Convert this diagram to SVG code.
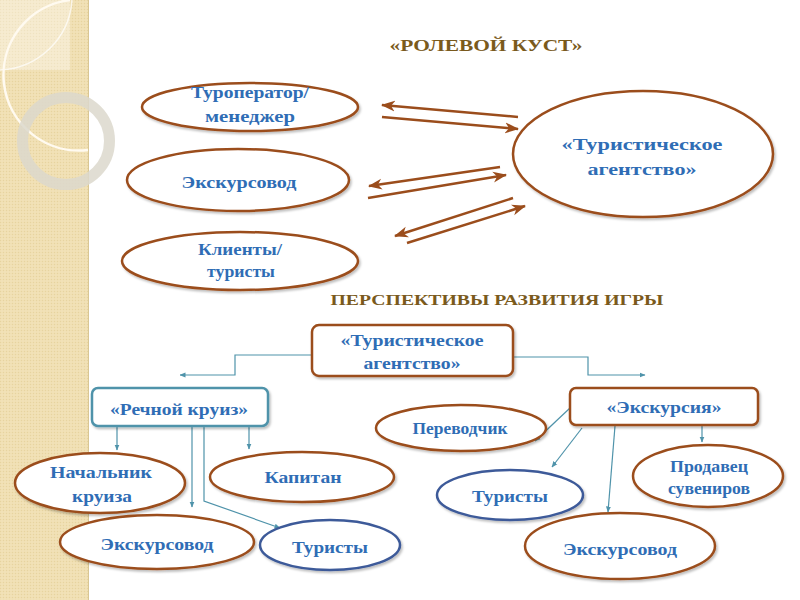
<svg xmlns="http://www.w3.org/2000/svg" width="800" height="600" viewBox="0 0 800 600">
<defs>
<pattern id="tex" width="3" height="3" patternUnits="userSpaceOnUse">
<rect width="3" height="3" fill="#f0dfb2"/>
<rect width="1" height="1" fill="#e6d3a0"/>
<rect x="1.5" y="1.5" width="1" height="1" fill="#f6e9c6"/>
</pattern>
<marker id="ab" markerUnits="userSpaceOnUse" markerWidth="14" markerHeight="12" viewBox="0 0 14 12" refX="13" refY="6" orient="auto">
<path d="M0,0.5 L14,6 L0,11.5 L4,6 Z" fill="#9b4d1c"/>
</marker>
<marker id="at" markerUnits="userSpaceOnUse" markerWidth="6" markerHeight="6" viewBox="0 0 6 6" refX="5.5" refY="3" orient="auto">
<path d="M0,0.5 L6,3 L0,5.5 Z" fill="#4f93aa"/>
</marker>
<filter id="sh" x="-10%" y="-10%" width="130%" height="140%">
<feDropShadow dx="1.5" dy="2" stdDeviation="1.2" flood-color="#000" flood-opacity="0.25"/>
</filter>
</defs>
<style>
.el{fill:#fff;stroke:#9b4d1c;stroke-width:2.5;filter:url(#sh)}
.eb{fill:#fff;stroke:#3d5a99;stroke-width:2.5;filter:url(#sh)}
.rb{fill:#fff;stroke:#9b4d1c;stroke-width:2.5;filter:url(#sh)}
.rt{fill:#fff;stroke:#4f93aa;stroke-width:2.5;filter:url(#sh)}
.t{font-family:"Liberation Serif","Times New Roman",serif;font-weight:bold;font-size:17px;fill:#2f6db5;text-anchor:middle}
.h{font-family:"Liberation Serif","Times New Roman",serif;font-weight:bold;fill:#7a5a1c;text-anchor:middle}
.ba{fill:none;stroke:#9b4d1c;stroke-width:2.5;marker-end:url(#ab)}
.ta{fill:none;stroke:#4f93aa;stroke-width:1.2;marker-end:url(#at)}
</style>
<rect width="800" height="600" fill="#fff"/>
<g id="background">
<rect x="0" y="0" width="88" height="600" fill="url(#tex)"/>
<line x1="88.5" y1="0" x2="88.5" y2="600" stroke="#d9c693" stroke-width="1"/>
<rect x="0" y="0" width="70" height="70" fill="#fff" fill-opacity="0.35"/>
<path d="M72,0 A75,75 0 0 1 0,70" fill="none" stroke="#fff" stroke-opacity="0.7" stroke-width="1.5"/>
<path d="M88,150 A75,75 0 0 1 70,0" fill="none" stroke="#fffaf0" stroke-width="2.5"/>
<circle cx="66" cy="141" r="43.5" fill="none" stroke="#dcd8cc" stroke-opacity="0.85" stroke-width="11"/>
</g>
<text class="h" x="486" y="51" font-size="17" textLength="193" lengthAdjust="spacingAndGlyphs">«РОЛЕВОЙ КУСТ»</text>
<text class="h" x="497" y="305" font-size="15" textLength="333" lengthAdjust="spacingAndGlyphs">ПЕРСПЕКТИВЫ РАЗВИТИЯ ИГРЫ</text>
<g id="connectors">
<path class="ba" d="M518,117 L382,105"/>
<path class="ba" d="M382,117 L518,129"/>
<path class="ba" d="M500,167 L369,186"/>
<path class="ba" d="M368,198 L506,175"/>
<path class="ba" d="M513,198 L395,236"/>
<path class="ba" d="M407,243 L525,206"/>
<path class="ta" d="M312,355 H235 V375 H180"/>
<path class="ta" d="M513,357 H588 V375 H645"/>
<path class="ta" d="M117,426 V450"/>
<path class="ta" d="M192,426 V507"/>
<path class="ta" d="M204,426 V501 L280,528"/>
<path class="ta" d="M249,426 V449"/>
<path class="ta" d="M570,408 L535,441"/>
<path class="ta" d="M582,428 L552,467"/>
<path class="ta" d="M615,426 L608,512"/>
<path class="ta" d="M702,426 V442"/>
</g>
<g id="n-touroperator">
<ellipse class="el" cx="250" cy="107" rx="108" ry="24"/>
<text class="t" x="250" y="98" textLength="118" lengthAdjust="spacingAndGlyphs">Туроператор/</text>
<text class="t" x="250" y="122" textLength="90" lengthAdjust="spacingAndGlyphs">менеджер</text>
</g>
<g id="n-guide-top">
<ellipse class="el" cx="238" cy="180" rx="111" ry="31"/>
<text class="t" x="239" y="188" textLength="115" lengthAdjust="spacingAndGlyphs">Экскурсовод</text>
</g>
<g id="n-clients">
<ellipse class="el" cx="240" cy="261" rx="118" ry="29"/>
<text class="t" x="240" y="255" textLength="84" lengthAdjust="spacingAndGlyphs">Клиенты/</text>
<text class="t" x="241" y="277" textLength="68" lengthAdjust="spacingAndGlyphs">туристы</text>
</g>
<g id="n-agency-top">
<ellipse class="el" cx="643" cy="154" rx="130" ry="63"/>
<text class="t" x="642" y="150" textLength="161" lengthAdjust="spacingAndGlyphs">«Туристическое</text>
<text class="t" x="642" y="175" textLength="109" lengthAdjust="spacingAndGlyphs">агентство»</text>
</g>
<g id="n-agency">
<rect class="rb" x="312" y="325" width="201" height="51" rx="7"/>
<text class="t" x="412" y="346" textLength="143" lengthAdjust="spacingAndGlyphs">«Туристическое</text>
<text class="t" x="412" y="369" textLength="97" lengthAdjust="spacingAndGlyphs">агентство»</text>
</g>
<g id="n-cruise">
<rect class="rt" x="92" y="388" width="176" height="38" rx="6"/>
<text class="t" x="179" y="415" textLength="138" lengthAdjust="spacingAndGlyphs">«Речной круиз»</text>
</g>
<g id="n-excursion">
<rect class="rb" x="570" y="388" width="188" height="37" rx="6"/>
<text class="t" x="664" y="413" textLength="115" lengthAdjust="spacingAndGlyphs">«Экскурсия»</text>
</g>
<g id="n-translator">
<ellipse class="el" cx="461" cy="428" rx="85" ry="23"/>
<text class="t" x="460" y="434" textLength="95" lengthAdjust="spacingAndGlyphs">Переводчик</text>
</g>
<g id="n-cruise-head">
<ellipse class="el" cx="100" cy="483" rx="85" ry="30"/>
<text class="t" x="101" y="478" textLength="102" lengthAdjust="spacingAndGlyphs">Начальник</text>
<text class="t" x="102" y="502" textLength="60" lengthAdjust="spacingAndGlyphs">круиза</text>
</g>
<g id="n-captain">
<ellipse class="el" cx="302" cy="477" rx="92" ry="25"/>
<text class="t" x="303" y="483" textLength="77" lengthAdjust="spacingAndGlyphs">Капитан</text>
</g>
<g id="n-guide-left">
<ellipse class="el" cx="157" cy="542" rx="97" ry="27"/>
<text class="t" x="157" y="550" textLength="113" lengthAdjust="spacingAndGlyphs">Экскурсовод</text>
</g>
<g id="n-tourists-left">
<ellipse class="eb" cx="330" cy="545" rx="70" ry="25"/>
<text class="t" x="330" y="553" textLength="76" lengthAdjust="spacingAndGlyphs">Туристы</text>
</g>
<g id="n-tourists-right">
<ellipse class="eb" cx="510" cy="495" rx="73" ry="25"/>
<text class="t" x="510" y="502" textLength="76" lengthAdjust="spacingAndGlyphs">Туристы</text>
</g>
<g id="n-seller">
<ellipse class="el" cx="708" cy="476" rx="75" ry="31"/>
<text class="t" x="709" y="472" textLength="78" lengthAdjust="spacingAndGlyphs">Продавец</text>
<text class="t" x="709" y="494" textLength="82" lengthAdjust="spacingAndGlyphs">сувениров</text>
</g>
<g id="n-guide-right">
<ellipse class="el" cx="620" cy="546" rx="95" ry="33"/>
<text class="t" x="620" y="555" textLength="114" lengthAdjust="spacingAndGlyphs">Экскурсовод</text>
</g>
</svg>
